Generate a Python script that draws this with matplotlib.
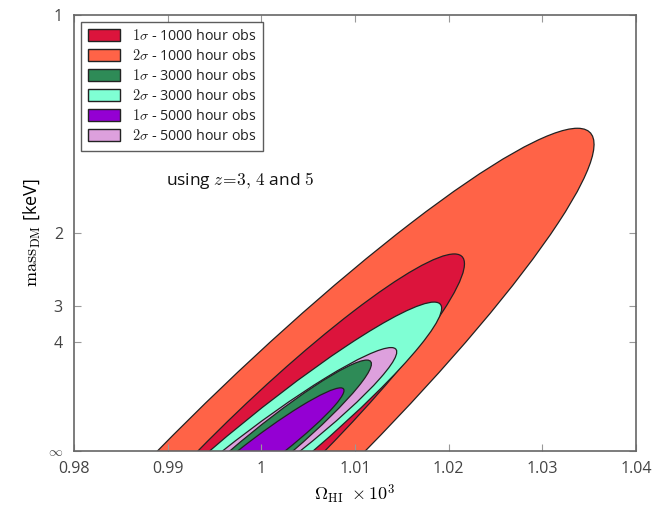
import numpy as np
import matplotlib
matplotlib.use("Agg")
import matplotlib.pyplot as plt
from matplotlib.patches import Ellipse, Patch

plt.rcParams['mathtext.fontset'] = 'cm'
plt.rcParams['font.family'] = ['Open Sans', 'DejaVu Sans']

# Data: forecast uncertainties on (Omega_HI x 1e3, 1/mass_DM [keV^-1])
obs_hours = [1000, 3000, 5000]
center = (1.0, 0.0)
sigma_omega = [0.0143, 0.00775, 0.00582]
sigma_invm = [0.298, 0.1375, 0.0955]
corr = [0.95, 0.958, 0.958]
colors_1sig = ['#DC143C', '#2E8B57', '#9400D3']
colors_2sig = ['#FF6347', '#7FFFD4', '#DDA0DD']
k_levels = {1: np.sqrt(2.30), 2: np.sqrt(6.17)}

xticks = [0.98, 0.99, 1.0, 1.01, 1.02, 1.03, 1.04]
xticklabels = ['0.98', '0.99', '1', '1.01', '1.02', '1.03', '1.04']
ymass = [1, 2, 3, 4, np.inf]
yticklabels = ['1', '2', '3', '4', r'$\infty$']

fig = plt.figure(figsize=(6.67, 5.07), dpi=100)
ax = fig.add_axes([74/667, 1-451/507, (636-74)/667, (451-15)/507])

shapes = []
for i, h in enumerate(obs_hours):
    cov = np.array([[sigma_omega[i]**2, corr[i]*sigma_omega[i]*sigma_invm[i]],
                    [corr[i]*sigma_omega[i]*sigma_invm[i], sigma_invm[i]**2]])
    vals, vecs = np.linalg.eigh(cov)
    order = vals.argsort()[::-1]
    vals, vecs = vals[order], vecs[:, order]
    ang = np.degrees(np.arctan2(vecs[1, 0], vecs[0, 0]))
    for lev, col in ((2, colors_2sig[i]), (1, colors_1sig[i])):
        k = k_levels[lev]
        w, hgt = 2*k*np.sqrt(vals[0]), 2*k*np.sqrt(vals[1])
        shapes.append((k*sigma_invm[i], Ellipse(center, w, hgt, angle=ang,
                                                facecolor=col, edgecolor='#222222', lw=0.9)))
shapes.sort(key=lambda s: -s[0])
for _, e in shapes:
    ax.add_patch(e)

handles = []
for i, h in enumerate(obs_hours):
    handles.append(Patch(facecolor=colors_1sig[i], edgecolor='#222222', label=r'$1\sigma$ - %d hour obs' % h))
    handles.append(Patch(facecolor=colors_2sig[i], edgecolor='#222222', label=r'$2\sigma$ - %d hour obs' % h))
leg = ax.legend(handles=handles, loc='upper left', fontsize=10.3, frameon=True, fancybox=False,
                borderaxespad=0.5, handlelength=2.3, handleheight=0.9, labelspacing=0.36,
                borderpad=0.45)
leg.get_frame().set_edgecolor('#333333')
for t in leg.get_texts():
    t.set_color('#222222')

ax.text(0.9898, 0.61, r'using $z\!=\!3,\, 4$ and $5$', fontsize=12.5, color='#111111')

ax.set_xlim(0.98, 1.04)
ax.set_ylim(0, 1)
ax.set_xticks(xticks)
ax.set_xticklabels(xticklabels, fontsize=11.5, color='#444444')
yvals = [1.0/m for m in ymass]
ax.set_yticks(yvals)
ax.set_yticklabels(yticklabels, fontsize=11.5, color='#444444')
ax.get_yticklabels()[-1].set_fontsize(10)
ax.tick_params(direction='in', top=True, right=True, length=5, color='#999999')
ax.tick_params(axis='x', pad=7)
ax.tick_params(axis='y', pad=8)
for s in ax.spines.values():
    s.set_color('#666666')
    s.set_linewidth(1.2)
ax.set_xlabel(r'$\Omega_{\rm HI}\ \times 10^3$', fontsize=13, labelpad=4)
ax.set_ylabel(r'$\mathrm{mass}_{\rm DM}$ [keV]', fontsize=13)

fig.savefig('out.png', dpi=100)
